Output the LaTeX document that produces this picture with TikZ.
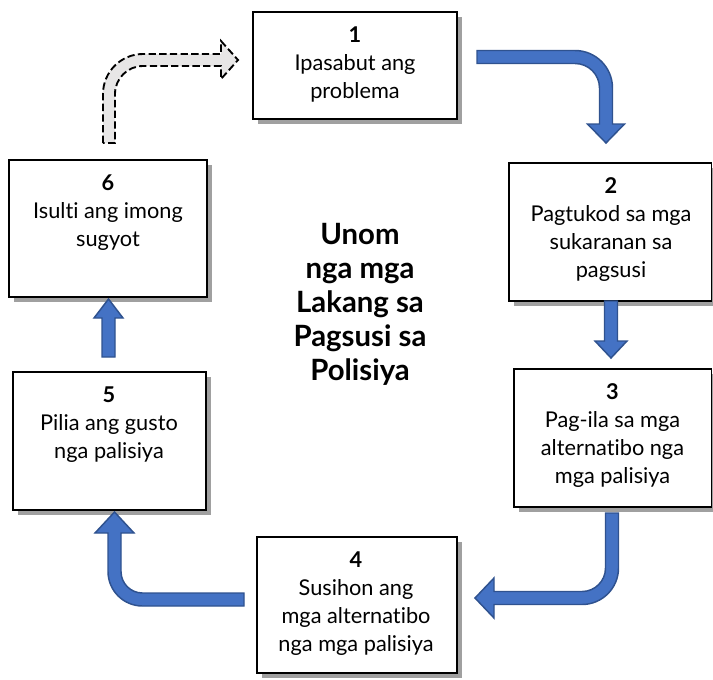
\documentclass[tikz,border=0pt]{standalone}
\usepackage{fontspec}
\setmainfont{Lato}[Ligatures=NoCommon]
\usetikzlibrary{shadows}
\newdimen\pxu \pxu=0.75pt
\definecolor{arrowblue}{HTML}{4472C4}
\definecolor{arrowedge}{HTML}{2F528F}
\definecolor{shadowgray}{HTML}{A0A0A0}
\definecolor{dashgray}{HTML}{E7E6E6}
\begin{document}
\begin{tikzpicture}[x=0.75pt, y=-0.75pt,
  box/.style={draw=black, fill=white, line width=1.2pt, inner sep=0pt, outer sep=0pt,
    general shadow={fill=shadowgray, draw=none, shadow xshift=3.75pt, shadow yshift=-3.75pt}},
  txt/.style={anchor=north, align=center, inner sep=0pt, font=\fontsize{16.3}{21}\selectfont},
  titletxt/.style={anchor=north, align=center, inner sep=0pt, font=\bfseries\fontsize{22}{25.5}\selectfont},
  blockarrow/.style={fill=arrowblue, draw=arrowedge, line width=1.1pt, line join=miter},
  dasharrow/.style={fill=dashgray, draw=black, line width=1.4pt, dash pattern=on 5.5pt off 2.5pt}]
\useasboundingbox (0,0) rectangle (713,679);
% boxes
\node[box, minimum width=204\pxu, minimum height=107\pxu] (b1) at (355,65.5) {};
\node[box, minimum width=202.5\pxu, minimum height=138\pxu] (b2) at (610.25,232) {};
\node[box, minimum width=197.5\pxu, minimum height=138\pxu] (b3) at (612.75,438) {};
\node[box, minimum width=200\pxu, minimum height=136\pxu] (b4) at (357,605) {};
\node[box, minimum width=193\pxu, minimum height=138\pxu] (b5) at (109.5,441) {};
\node[box, minimum width=198\pxu, minimum height=137\pxu] (b6) at (108,228.5) {};
% texts
\node[txt] (t1) at (355,26.5) {\textbf{1}\\Ipasabut ang\\problema};
\node[txt] (t2) at (611,177.5) {\textbf{2}\\Pagtukod sa mga\\sukaranan sa\\pagsusi};
\node[txt] (t3) at (612.5,383.5) {\textbf{3}\\Pag-ila sa mga\\alternatibo nga\\mga palisiya};
\node[txt] (t4) at (356,551.5) {\textbf{4}\\Susihon ang\\mga alternatibo\\nga mga palisiya};
\node[txt] (t5) at (109,386.5) {\textbf{5}\\Pilia ang gusto\\nga palisiya};
\node[txt] (t6) at (108,174.5) {\textbf{6}\\Isulti ang imong\\sugyot};
\node[titletxt] (title) at (360,223) {Unom\\nga mga\\Lakang sa\\Pagsusi sa\\Polisiya};
% block arrows
\draw[blockarrow] (477,50.5) -- (575,50.5) arc[start angle=270, end angle=360, radius=37.5]
  -- (612.5,124) -- (624.5,124) -- (606,143) -- (587.5,124) -- (599.5,124) -- (599.5,88)
  arc[start angle=0, end angle=-90, radius=24.5] -- (477,63.5) -- cycle;
\draw[blockarrow] (604.5,301) -- (617.5,301) -- (617.5,341) -- (627,341) -- (611,358)
  -- (595,341) -- (604.5,341) -- cycle;
\draw[blockarrow] (605.5,513) -- (618.5,513) -- (618.5,568) arc[start angle=0, end angle=90, radius=36.5]
  -- (494,604.5) -- (494,618) -- (475,598) -- (494,578) -- (494,591.5) -- (582,591.5)
  arc[start angle=90, end angle=0, radius=23.5] -- cycle;
\draw[blockarrow] (244,593) -- (142.5,593) arc[start angle=90, end angle=180, radius=21.5]
  -- (121,533) -- (134,533) -- (114.5,512) -- (95,533) -- (108,533) -- (108,571.5)
  arc[start angle=180, end angle=90, radius=34.5] -- (244,606) -- cycle;
\draw[blockarrow] (102,357) -- (115,357) -- (115,318) -- (123,318) -- (108.5,299)
  -- (94,318) -- (102,318) -- cycle;
\draw[dasharrow] (103,143) -- (103,94) arc[start angle=180, end angle=270, radius=40]
  -- (221,54) -- (221,41) -- (238,60) -- (221,79) -- (221,66) -- (143,66)
  arc[start angle=270, end angle=180, radius=28] -- (115,94) -- (115,143) -- cycle;
\end{tikzpicture}
\end{document}
